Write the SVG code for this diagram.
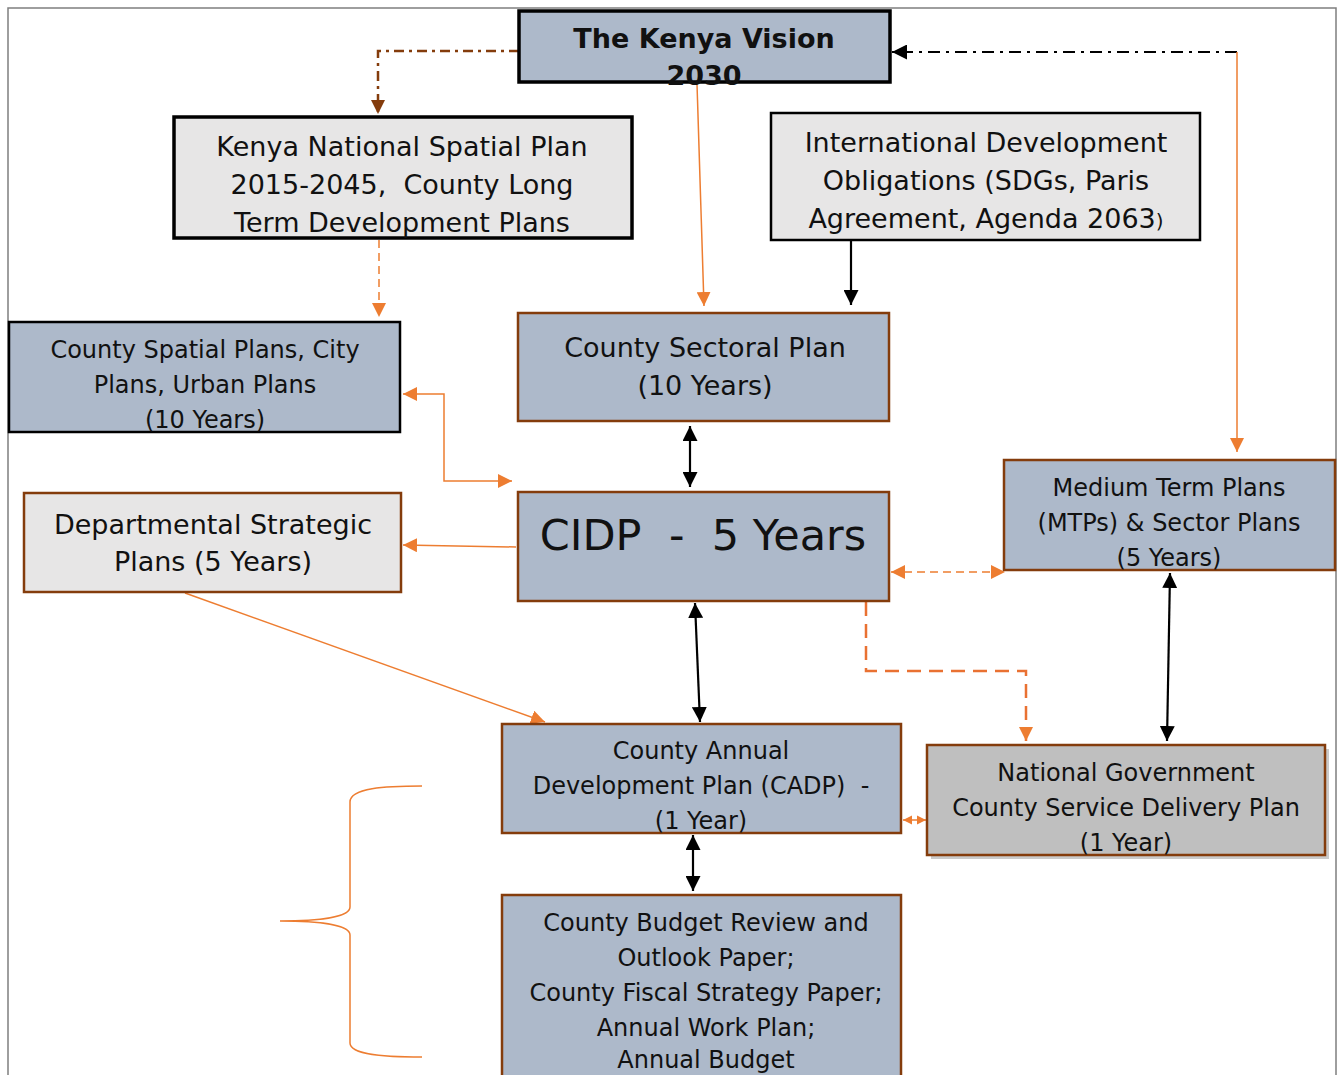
<svg xmlns="http://www.w3.org/2000/svg" width="1342" height="1075" viewBox="0 0 1342 1075">
<style>
.t{font-family:"DejaVu Sans","Liberation Sans",sans-serif;fill:#111;text-anchor:middle}
.l{font-size:27px}
.m{font-size:24px}
.blue{fill:#ADB9CA}
.grey{fill:#E7E6E6}
.bk{stroke:#000}
.br{stroke:#843C0C;stroke-width:2.5}
.or{fill:none;stroke:#ED7D31;stroke-width:1.5}
.blk{fill:none;stroke:#000;stroke-width:2.2}
</style>
<defs>
<marker id="aO" viewBox="0 0 10 10" refX="10" refY="5" markerUnits="userSpaceOnUse" markerWidth="14" markerHeight="14" orient="auto-start-reverse"><path d="M0,0 L10,5 L0,10 z" fill="#ED7D31"/></marker>
<marker id="aOs" viewBox="0 0 10 10" refX="10" refY="5" markerUnits="userSpaceOnUse" markerWidth="9" markerHeight="10" orient="auto-start-reverse"><path d="M0,0 L10,5 L0,10 z" fill="#ED7D31"/></marker>
<marker id="aB" viewBox="0 0 10 10" refX="10" refY="5" markerUnits="userSpaceOnUse" markerWidth="15" markerHeight="15" orient="auto-start-reverse"><path d="M0,0 L10,5 L0,10 z" fill="#000"/></marker>
<marker id="aBr" viewBox="0 0 10 10" refX="10" refY="5" markerUnits="userSpaceOnUse" markerWidth="14" markerHeight="14" orient="auto-start-reverse"><path d="M0,0 L10,5 L0,10 z" fill="#843C0C"/></marker>
</defs>
<rect width="1342" height="1075" fill="#fff"/>
<path d="M8,1075 V8 H1336 V1075" fill="none" stroke="#7f7f7f" stroke-width="1.5"/>

<g id="connectors">
<path d="M519,51 H378 V114" fill="none" stroke="#843C0C" stroke-width="2.5" stroke-dasharray="10,5,3,5" marker-end="url(#aBr)"/>
<path d="M1237,52 H892" fill="none" stroke="#000" stroke-width="2" stroke-dasharray="12,6,3,6" marker-end="url(#aB)"/>
<path d="M1237,52 V452" class="or" marker-end="url(#aO)"/>
<path d="M697,84 L704,306" class="or" marker-end="url(#aO)"/>
<path d="M851,241 V305" class="blk" marker-end="url(#aB)"/>
<path d="M379,240 V317" class="or" stroke-dasharray="8,5" marker-end="url(#aO)"/>
<path d="M403,394 H444 V481 H512" class="or" marker-start="url(#aO)" marker-end="url(#aO)"/>
<path d="M516,547 L403,545" class="or" marker-end="url(#aO)"/>
<path d="M690,426 V487" class="blk" marker-start="url(#aB)" marker-end="url(#aB)"/>
<path d="M891,572 H1005" class="or" stroke-width="2" stroke-dasharray="8,5" marker-start="url(#aO)" marker-end="url(#aO)"/>
<path d="M695,603 L700,722" class="blk" marker-start="url(#aB)" marker-end="url(#aB)"/>
<path d="M866,602 V671 H1026 V741" fill="none" stroke="#E97132" stroke-width="2.5" stroke-dasharray="14,8" marker-end="url(#aO)"/>
<path d="M1170,573 L1167,741" class="blk" marker-start="url(#aB)" marker-end="url(#aB)"/>
<path d="M185,593 L545,722" class="or" marker-end="url(#aO)"/>
<path d="M903,820 H926" class="or" marker-start="url(#aOs)" marker-end="url(#aOs)"/>
<path d="M693,835 V891" class="blk" marker-start="url(#aB)" marker-end="url(#aB)"/>
<path d="M422,786 C385,786 350,788 350,802 V907 C350,917 320,921 280,921 C320,921 350,925 350,935 V1043 C350,1055 385,1057 422,1057" class="or"/>
</g>

<g id="vision">
<rect x="519" y="11" width="371" height="71" class="blue bk" stroke-width="3.5"/>
<text class="t" x="704" y="48" font-size="27" font-weight="bold">The Kenya Vision</text>
<text class="t" x="704" y="85" font-size="27" font-weight="bold">2030</text>
</g>

<g id="knsp">
<rect x="174" y="117" width="458" height="121" class="grey bk" stroke-width="3.5"/>
<text class="t l" x="402" y="156">Kenya National Spatial Plan</text>
<text class="t l" x="402" y="194" xml:space="preserve">2015-2045,  County Long</text>
<text class="t l" x="402" y="232">Term Development Plans</text>
</g>

<g id="intl">
<rect x="771" y="113" width="429" height="127" class="grey bk" stroke-width="2.5"/>
<text class="t l" x="986" y="152">International Development</text>
<text class="t l" x="986" y="190">Obligations (SDGs, Paris</text>
<text class="t l" x="986" y="228">Agreement, Agenda 2063<tspan font-size="20">)</tspan></text>
</g>

<g id="spatial">
<rect x="9" y="322" width="391" height="110" class="blue bk" stroke-width="2.5"/>
<text class="t m" x="205" y="358">County Spatial Plans, City</text>
<text class="t m" x="205" y="393">Plans, Urban Plans</text>
<text class="t m" x="205" y="428">(10 Years)</text>
</g>

<g id="sectoral">
<rect x="518" y="313" width="371" height="108" class="blue br"/>
<text class="t l" x="705" y="357">County Sectoral Plan</text>
<text class="t l" x="705" y="395">(10 Years)</text>
</g>

<g id="cidp">
<rect x="518" y="492" width="371" height="109" class="blue br"/>
<text class="t" x="703" y="550" font-size="43" xml:space="preserve">CIDP  -  5 Years</text>
</g>

<g id="dept">
<rect x="24" y="493" width="377" height="99" class="grey br"/>
<text class="t l" x="213" y="534">Departmental Strategic</text>
<text class="t l" x="213" y="571">Plans (5 Years)</text>
</g>

<g id="mtp">
<rect x="1004" y="460" width="331" height="110" class="blue br"/>
<text class="t m" x="1169" y="496">Medium Term Plans</text>
<text class="t m" x="1169" y="531">(MTPs) &amp; Sector Plans</text>
<text class="t m" x="1169" y="566">(5 Years)</text>
</g>

<g id="cadp">
<rect x="502" y="724" width="399" height="109" class="blue br"/>
<text class="t m" x="701" y="759">County Annual</text>
<text class="t m" x="701" y="794" xml:space="preserve">Development Plan (CADP)  -</text>
<text class="t m" x="701" y="829">(1 Year)</text>
</g>

<g id="natgov">
<rect x="931" y="749" width="398" height="110" fill="#bdbdbd" opacity="0.8"/>
<rect x="927" y="745" width="398" height="110" fill="#BFBFBF" class="br"/>
<text class="t m" x="1126" y="781">National Government</text>
<text class="t m" x="1126" y="816">County Service Delivery Plan</text>
<text class="t m" x="1126" y="851">(1 Year)</text>
</g>

<g id="budget">
<rect x="502" y="895" width="399" height="190" class="blue br"/>
<text class="t m" x="706" y="931">County Budget Review and</text>
<text class="t m" x="706" y="966">Outlook Paper;</text>
<text class="t m" x="706" y="1001">County Fiscal Strategy Paper;</text>
<text class="t m" x="706" y="1036">Annual Work Plan;</text>
<text class="t m" x="706" y="1068">Annual Budget</text>
</g>
</svg>
